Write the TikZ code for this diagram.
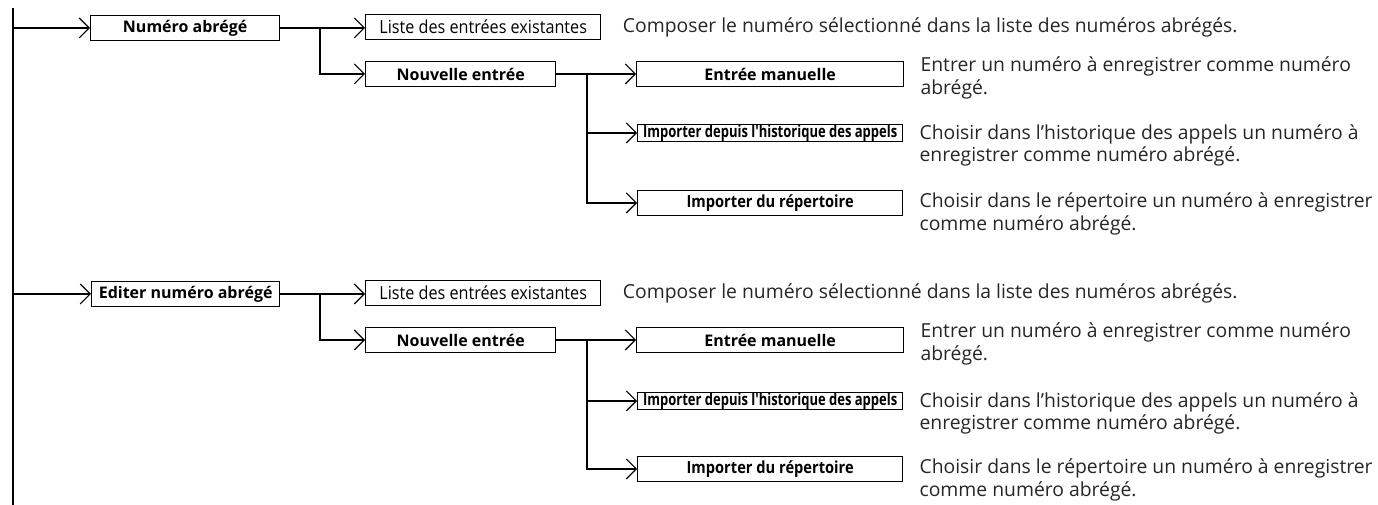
\documentclass[tikz,border=0pt]{standalone}
\usepackage{fontspec}
\setmainfont{Open Sans}
\newfontfamily\condfont[FakeStretch=0.78]{Open Sans}
\newfontfamily\semicondfont[FakeStretch=0.88]{Open Sans}
\newfontfamily\listfont[FakeStretch=0.9]{Open Sans}
\usetikzlibrary{arrows.meta,positioning}

\begin{document}
\begin{tikzpicture}[x=0.75pt,y=-0.75pt,
  box/.style={draw,line width=1pt,inner sep=0pt,minimum height=18.75pt,
              font=\bfseries\fontsize{12}{13}\selectfont},
  cbox/.style={box,font=\condfont\bfseries\fontsize{12.5}{13}\selectfont},
  rbox/.style={box,font=\semicondfont\bfseries\fontsize{12.5}{13}\selectfont},
  lbox/.style={box,font=\listfont\fontsize{13.5}{14}\selectfont},
  desc/.style={inner sep=0pt,align=left,anchor=north west,text=black!85,
               font=\fontsize{14.5}{17}\selectfont},
  ln/.style={line width=1.5pt},
  ar/.style={ln,-{Straight Barb[length=7.5pt,width=15pt,line width=0.8pt]}}]
\useasboundingbox (0,0) rectangle (1378,505);
\coordinate (t0) at (13,8);
\coordinate (t1) at (13,505);
\draw[ln] (t0)--(t1);
% premier bloc
\node[box,anchor=west,minimum width=141.75pt] (na) at (90,28) {Numéro abrégé};
\node[lbox,anchor=west,minimum width=176.25pt] (le1) at (365,27) {Liste des entrées existantes};
\node[box,anchor=west,minimum width=142.5pt] (ne1) at (365,74) {Nouvelle entrée};
\node[box,anchor=west,minimum width=200.25pt] (em1) at (636,74) {Entrée manuelle};
\node[cbox,anchor=west,minimum width=198.75pt,minimum height=12pt] (ih1) at (637,133) {Importer depuis l'historique des appels};
\node[rbox,anchor=west,minimum width=198.75pt] (ir1) at (637,203) {Importer du répertoire};
\coordinate (j1) at (320,28);
\coordinate (k1) at (587,74);
\draw[ar] (t0 |- na) -- (na);
\draw[ar] (na) -- (na -| le1.west); \draw[ar] (j1) |- (ne1);
\draw[ar] (ne1) -- (em1); \draw[ar] (k1) |- (ih1); \draw[ar] (k1) |- (ir1);
\node[desc,anchor=west] (d1) at ([xshift=16pt]le1.east) {Composer le numéro sélectionné dans la liste des numéros abrégés.};
\node[desc] (d2) at ([xshift=12pt,yshift=3pt]em1.north east) {Entrer un numéro à enregistrer comme numéro\\abrégé.};
\node[desc] (d3) at ([xshift=12pt]ih1.north east) {Choisir dans l'historique des appels un numéro à\\enregistrer comme numéro abrégé.};
\node[desc] (d4) at ([xshift=12pt,yshift=-2pt]ir1.north east) {Choisir dans le répertoire un numéro à enregistrer\\comme numéro abrégé.};
% second bloc
\node[box,anchor=west,minimum width=141pt] (en) at (91,294) {Editer numéro abrégé};
\node[lbox,anchor=west,minimum width=176.25pt] (le2) at (365,293) {Liste des entrées existantes};
\node[box,anchor=west,minimum width=142.5pt] (ne2) at (365,340) {Nouvelle entrée};
\node[box,anchor=west,minimum width=200.25pt] (em2) at (636,340) {Entrée manuelle};
\node[cbox,anchor=west,minimum width=198.75pt,minimum height=12pt] (ih2) at (637,401) {Importer depuis l'historique des appels};
\node[rbox,anchor=west,minimum width=198.75pt] (ir2) at (637,469) {Importer du répertoire};
\coordinate (j2) at (320,294);
\coordinate (k2) at (587,340);
\draw[ar] (t0 |- en) -- (en);
\draw[ar] (en) -- (en -| le2.west); \draw[ar] (j2) |- (ne2);
\draw[ar] (ne2) -- (em2); \draw[ar] (k2) |- (ih2); \draw[ar] (k2) |- (ir2);
\node[desc,anchor=west] (d5) at ([xshift=16pt]le2.east) {Composer le numéro sélectionné dans la liste des numéros abrégés.};
\node[desc] (d6) at ([xshift=12pt,yshift=3pt]em2.north east) {Entrer un numéro à enregistrer comme numéro\\abrégé.};
\node[desc] (d7) at ([xshift=12pt]ih2.north east) {Choisir dans l'historique des appels un numéro à\\enregistrer comme numéro abrégé.};
\node[desc] (d8) at ([xshift=12pt,yshift=-2pt]ir2.north east) {Choisir dans le répertoire un numéro à enregistrer\\comme numéro abrégé.};
\end{tikzpicture}
\end{document}
